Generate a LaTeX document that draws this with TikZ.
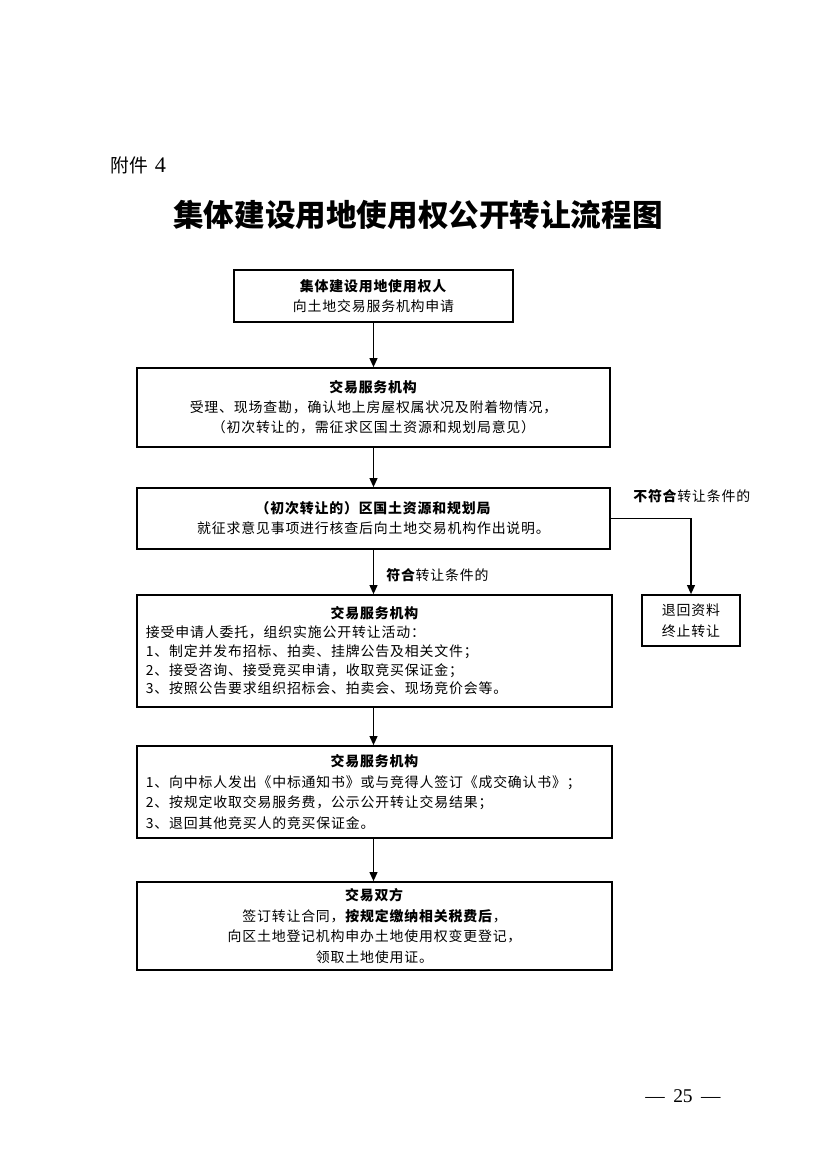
\documentclass[tikz,border=0pt]{standalone}
\usepackage{fontspec}
\setmainfont{Liberation Serif}
\newfontfamily\cjk[LetterSpace=6]{Noto Sans CJK SC}
\newfontfamily\cjkplain{Noto Sans CJK SC}
\usetikzlibrary{arrows.meta}
\tikzset{
    every node/.style={font=\cjk\fontsize{10}{14.4}\selectfont, inner sep=0pt}
}
\tikzset{
    flowbox/.style={draw, line width=1.1pt, align=center},
    listbox/.style={flowbox, align=left, inner xsep=6.5pt, text width=329pt},
    flowline/.style={line width=1.3pt, -{Triangle[length=6.5pt,width=5.5pt]}}
}

\begin{document}
\begin{tikzpicture}[x=0.7195pt, y=-0.7195pt]
	\useasboundingbox (0,0) rectangle (827,1169);
	\node[anchor=west, font=\cjkplain\fontsize{13.5}{15}\selectfont] (annex) at (110,165) {附件\hspace{5pt}{\rmfamily\fontsize{16}{16}\selectfont 4}};
	\node[font=\cjkplain\bfseries\fontsize{22}{26}\selectfont] (title) at (418,215) {集体建设用地使用权公开转让流程图};
	
	\node[flowbox, minimum width=200.7pt, minimum height=37.4pt] (apply) at (373.5,296)
		{\textbf{集体建设用地使用权人}\\向土地交易服务机构申请};
	\node[flowbox, minimum width=340.3pt, minimum height=56.8pt] (accept) at (373.5,407.5)
		{\textbf{交易服务机构}\\受理、现场查勘，确认地上房屋权属状况及附着物情况，\\（初次转让的，需征求区国土资源和规划局意见）};
	\node[flowbox, minimum width=340.3pt, minimum height=43.9pt] (bureau) at (373.5,518.5)
		{\textbf{（初次转让的）区国土资源和规划局}\\就征求意见事项进行核查后向土地交易机构作出说明。};
	\node[listbox, minimum height=80.6pt, font=\cjk\fontsize{10}{13.5}\selectfont] (auction) at (374.5,651)
		{{\centering\bfseries 交易服务机构\par}接受申请人委托，组织实施公开转让活动：\\1、制定并发布招标、拍卖、挂牌公告及相关文件；\\2、接受咨询、接受竞买申请，收取竞买保证金；\\3、按照公告要求组织招标会、拍卖会、现场竞价会等。};
	\node[listbox, minimum height=66.2pt, font=\cjk\fontsize{10}{15}\selectfont] (result) at (374.5,792)
		{{\centering\bfseries 交易服务机构\par}1、向中标人发出《中标通知书》或与竞得人签订《成交确认书》；\\2、按规定收取交易服务费，公示公开转让交易结果；\\3、退回其他竞买人的竞买保证金。};
	\node[flowbox, minimum width=341.8pt, minimum height=63.3pt, font=\cjk\fontsize{10}{15}\selectfont] (parties) at (374.5,926)
		{\textbf{交易双方}\\签订转让合同，\textbf{按规定缴纳相关税费后}，\\向区土地登记机构申办土地使用权变更登记，\\领取土地使用证。};
	\node[flowbox, minimum width=70.5pt, minimum height=36.7pt, font=\cjk\fontsize{10}{15}\selectfont] (refuse) at (691,620.5)
		{退回资料\\终止转让};
	
	\node[anchor=west] (nofit) at (633,496) {\textbf{不符合}转让条件的};
	\node[anchor=west] (fit) at (386,575) {\textbf{符合}转让条件的};
	
	\draw[flowline] (apply.south) -- (accept.north);
	\draw[flowline] (accept.south) -- (bureau.north);
	\draw[flowline] (bureau.south) -- (bureau.south |- auction.north);
	\draw[flowline] (bureau.south |- auction.south) -- (bureau.south |- result.north);
	\draw[flowline] (bureau.south |- result.south) -- (bureau.south |- parties.north);
	\draw[flowline] (bureau.east) -| (refuse.north);
	
	\node[font=\rmfamily\fontsize{14}{16}\selectfont] (page) at (683,1096) {—\hspace{6pt}25\hspace{6pt}—};
\end{tikzpicture}
\end{document}
